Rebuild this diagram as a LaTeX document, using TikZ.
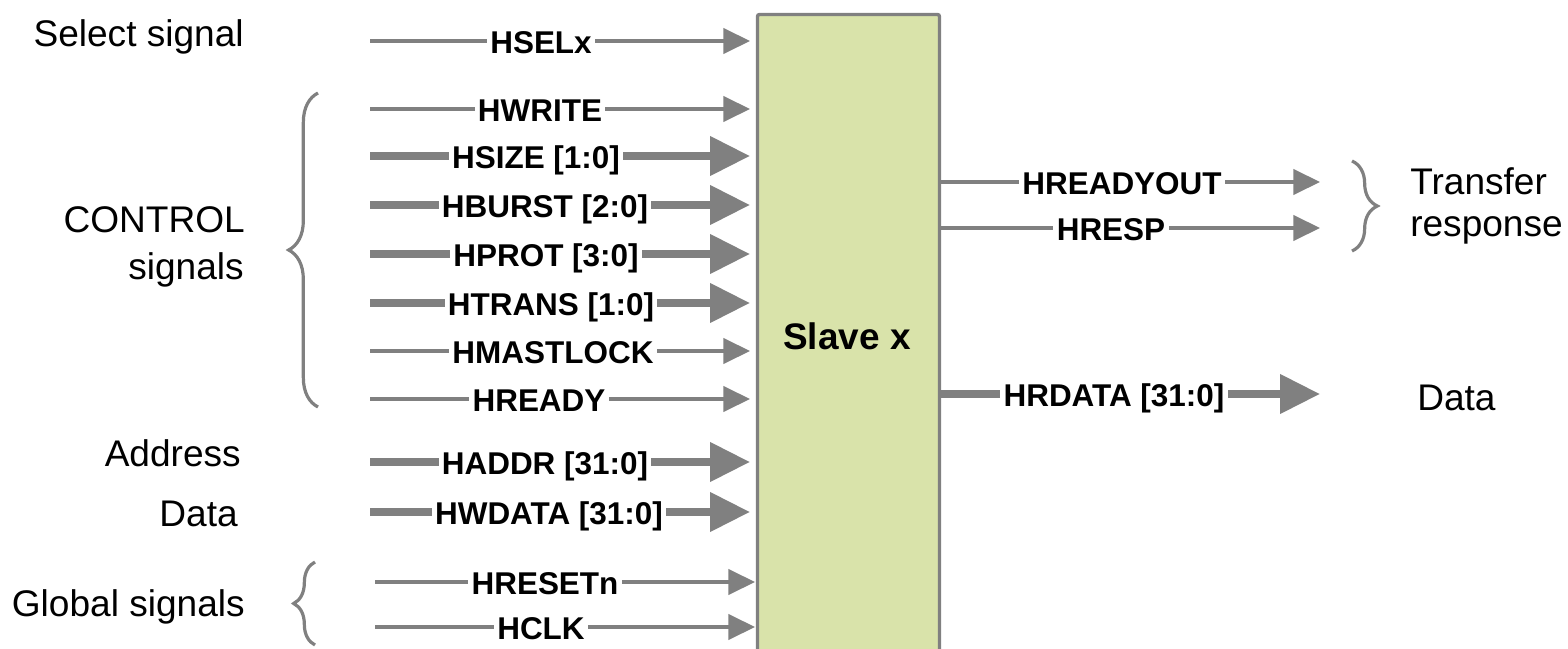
\documentclass[tikz,border=0pt]{standalone}
\usepackage{fontspec}
\setmainfont{Liberation Sans}
\usetikzlibrary{arrows.meta,decorations.pathreplacing}
\definecolor{lgray}{HTML}{808080}
\definecolor{boxfill}{HTML}{D9E3AA}
\begin{document}
\begin{tikzpicture}[x=0.75pt,y=-0.75pt,
  sigthin/.style={draw=lgray,line width=2.5pt,-{Triangle[length=20pt,width=19pt]}},
  sigthick/.style={draw=lgray,line width=5.6pt,-{Triangle[length=30pt,width=28.5pt]}},
  lab/.style={fill=white,inner xsep=2.5pt,inner ysep=0pt,font=\bfseries\fontsize{23.6}{28}\selectfont,anchor=base},
  side/.style={inner sep=0pt,font=\fontsize{27.8}{32}\selectfont},
  bracestyle/.style={draw=lgray,line width=2.4pt,decorate},
  slavebox/.style={draw=lgray,fill=boxfill,line width=2.5pt,rounded corners=1.5pt,inner sep=0pt,
    minimum width=136.5pt,minimum height=514pt,anchor=north west}]
\useasboundingbox (0,0) rectangle (1568,649);
\clip (0,0) rectangle (1568,649);

% slave block
\node[slavebox] (slave) at (755.8,12.8) {};
\node[inner sep=0pt,anchor=base,font=\bfseries\fontsize{27.7}{33}\selectfont] (slavetxt) at (847,349) {Slave x};

% inputs
\foreach \nm/\y/\cx/\xs/\xe/\txt/\sty in {
  sel/41/541/370/750/{HSELx}/sigthin,
  wr/109/540/370/750/{HWRITE}/sigthin,
  sz/156/536/370/750/{HSIZE [1:0]}/sigthick,
  bu/205/545/370/750/{HBURST [2:0]}/sigthick,
  pr/254/546/370/750/{HPROT [3:0]}/sigthick,
  tr/303/551/370/750/{HTRANS [1:0]}/sigthick,
  ml/351/553/370/750/{HMASTLOCK}/sigthin,
  rd/399/539/370/750/{HREADY}/sigthin,
  ad/462/545/370/750/{HADDR [31:0]}/sigthick,
  wd/512/549/370/750/{HWDATA [31:0]}/sigthick,
  rs/582/545/375/755/{HRESETn}/sigthin,
  ck/627/541/375/755/{HCLK}/sigthin}
{
  \coordinate (s\nm) at (\xs,\y);
  \coordinate (e\nm) at (\xe,\y);
  \draw[\sty] (s\nm) -- (e\nm);
  \node[lab] (l\nm) at (\cx,\y+12.5) {\txt};
}

% outputs
\foreach \nm/\y/\cx/\txt/\sty in {
  ro/182/1122/{HREADYOUT}/sigthin,
  rp/228/1111/{HRESP}/sigthin,
  rdat/394/1114/{HRDATA [31:0]}/sigthick}
{
  \coordinate (os\nm) at (slave.east |- 0,\y);
  \coordinate (oe\nm) at (1320,\y);
  \draw[\sty] (os\nm) -- (oe\nm);
  \node[lab] (ol\nm) at (\cx,\y+12.5) {\txt};
}

% braces
\coordinate (cb1) at (318,407);
\coordinate (cb2) at (318,93);
\draw[bracestyle,decoration={brace,amplitude=22pt}] (cb1) -- (cb2);
\coordinate (gb1) at (315,645);
\coordinate (gb2) at (315,562);
\draw[bracestyle,decoration={brace,amplitude=16pt}] (gb1) -- (gb2);
\coordinate (tb1) at (1352,161);
\coordinate (tb2) at (1352,251);
\draw[bracestyle,decoration={brace,amplitude=19pt}] (tb1) -- (tb2);

% side labels
\node[side,anchor=base east] (tsel) at (244,47) {Select signal};
\node[side,anchor=base east] (tctl1) at (245,233) {CONTROL};
\node[side,anchor=base east] (tctl2) at (244,280) {signals};
\node[side,anchor=base east] (taddr) at (241,466) {Address};
\node[side,anchor=base east] (tdata) at (238,526) {Data};
\node[side,anchor=base east] (tglob) at (245,616) {Global signals};
\node[side,anchor=base west] (ttr1) at (1410,195) {Transfer};
\node[side,anchor=base west] (ttr2) at (1410,237) {response};
\node[side,anchor=base west] (tdat) at (1417,410) {Data};
\end{tikzpicture}
\end{document}
